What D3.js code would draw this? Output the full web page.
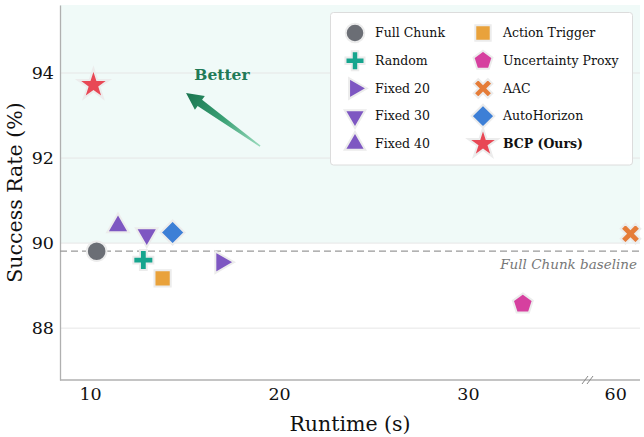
<!DOCTYPE html>
<html>
<head>
<meta charset="utf-8">
<script src="https://cdn.jsdelivr.net/npm/d3@7"></script>
<style>
  body { margin: 0; background: #fff; }
  svg { display: block; font-family: "DejaVu Serif", serif; }
</style>
</head>
<body>
<svg id="chart" width="644" height="437"></svg>
<script>
// data
const methods   = ["Full Chunk", "Random", "Fixed 20", "Fixed 30", "Fixed 40",
                   "Action Trigger", "Uncertainty Proxy", "AAC", "AutoHorizon", "BCP (Ours)"];
const runtimes  = [10.35, 12.82, 16.96, 13.0, 11.48, 13.84, 32.9, 60.8, 14.37, 10.18];
const successes = [89.81, 89.6, 89.55, 90.2, 90.4, 89.17, 88.57, 90.22, 90.25, 93.72];
const colors    = ["#6b6e75", "#16a58e", "#7e57c2", "#7e57c2", "#7e57c2",
                   "#e9a23b", "#d6409f", "#e57c38", "#3d7fd6", "#e84855"];
const shapes    = ["circle", "plus", "triRight", "triDown", "triUp",
                   "square", "pentagon", "xmark", "diamond", "star"];

const xTicks = [10, 20, 30, 60];
const yTicks = [88, 90, 92, 94];
const baseline = 89.81;

const margin = { top: 5, right: 4, bottom: 57, left: 60 };
const W = 644, H = 437;
const svg = d3.select("#chart");

// broken x axis: 8.4..36.4 | 58.6..61.3
const x = d3.scaleLinear()
    .domain([8.41, 36.35, 58.57, 61.3])
    .range([margin.left, 588, 588, W - margin.right]);
const y = d3.scaleLinear()
    .domain([86.78, 95.6])
    .range([H - margin.bottom, margin.top]);

const x0 = margin.left, x1 = W - margin.right;
const yTop = margin.top, yBot = H - margin.bottom;

// shaded "good" region above 90
svg.append("rect")
    .attr("x", x0).attr("y", yTop)
    .attr("width", x1 - x0).attr("height", y(90) - yTop)
    .attr("fill", "#f0faf8");

// grid
svg.append("g").selectAll("line")
    .data(yTicks).join("line")
    .attr("x1", x0).attr("x2", x1)
    .attr("y1", d => y(d)).attr("y2", d => y(d))
    .attr("stroke", "#e6e6e6").attr("stroke-width", 1);

// axes
const yAxis = svg.append("g")
    .attr("transform", `translate(${x0},0)`)
    .call(d3.axisLeft(y).tickValues(yTicks).tickSize(0).tickPadding(6));
const xAxis = svg.append("g")
    .attr("transform", `translate(0,${yBot})`)
    .call(d3.axisBottom(x).tickValues(xTicks).tickSize(0).tickPadding(8));
[xAxis, yAxis].forEach(g => {
    g.select(".domain").attr("stroke", "#b0b0b0").attr("stroke-width", 1.3);
    g.selectAll("text").attr("font-family", "DejaVu Serif").attr("font-size", 17.5).attr("fill", "#111");
});
xAxis.select(".domain").attr("d", `M${x0},0H${x1}`);

// break marks
const bx = x(36.35);
svg.append("g").selectAll("line")
    .data([-3, 2]).join("line")
    .attr("x1", d => bx + d - 3).attr("x2", d => bx + d + 3)
    .attr("y1", yBot + 4).attr("y2", yBot - 4)
    .attr("stroke", "#888").attr("stroke-width", 1);

// axis titles
svg.append("text")
    .attr("x", (x0 + x1) / 2).attr("y", 431)
    .attr("text-anchor", "middle").attr("font-size", 20.5).attr("fill", "#111")
    .text("Runtime (s)");
svg.append("text")
    .attr("transform", `translate(22,${(yTop + yBot) / 2}) rotate(-90)`)
    .attr("text-anchor", "middle").attr("font-size", 20.5).attr("fill", "#111")
    .text("Success Rate (%)");

// baseline
svg.append("line")
    .attr("x1", x0).attr("x2", x1)
    .attr("y1", y(baseline)).attr("y2", y(baseline))
    .attr("stroke", "#999").attr("stroke-width", 1.3).attr("stroke-dasharray", "7,4");
svg.append("text")
    .attr("x", x1 - 3).attr("y", y(baseline) + 18)
    .attr("text-anchor", "end").attr("font-style", "italic")
    .attr("font-size", 13.5).attr("fill", "#777")
    .text("Full Chunk baseline");

// "Better" arrow (data coords)
const arrowTail = [19.0, 92.28], arrowHead = [15.08, 93.53];
const defs = svg.append("defs");
const grad = defs.append("linearGradient")
    .attr("id", "arrowGrad").attr("gradientUnits", "userSpaceOnUse")
    .attr("x1", x(arrowTail[0])).attr("y1", y(arrowTail[1]))
    .attr("x2", x(arrowHead[0])).attr("y2", y(arrowHead[1]));
grad.append("stop").attr("offset", 0).attr("stop-color", "#9adbbd");
grad.append("stop").attr("offset", 0.5).attr("stop-color", "#3aa175");
grad.append("stop").attr("offset", 1).attr("stop-color", "#1a7550");
{
    const tx = x(arrowTail[0]), ty = y(arrowTail[1]);
    const hx = x(arrowHead[0]), hy = y(arrowHead[1]);
    const dx = hx - tx, dy = hy - ty, L = Math.hypot(dx, dy);
    const ux = dx / L, uy = dy / L, nx = -uy, ny = ux;
    const headLen = 17, headW = 8.5, shaftW = 3.8, tailW = 0.7;
    const bxp = hx - ux * headLen, byp = hy - uy * headLen;
    const pts = [
        [tx + nx * tailW, ty + ny * tailW],
        [bxp + nx * shaftW, byp + ny * shaftW],
        [bxp + nx * headW, byp + ny * headW],
        [hx, hy],
        [bxp - nx * headW, byp - ny * headW],
        [bxp - nx * shaftW, byp - ny * shaftW],
        [tx - nx * tailW, ty - ny * tailW]
    ];
    svg.append("path")
        .attr("d", "M" + pts.map(p => p.join(",")).join("L") + "Z")
        .attr("fill", "url(#arrowGrad)");
}
svg.append("text")
    .attr("x", x(16.98)).attr("y", y(93.84))
    .attr("text-anchor", "middle").attr("font-weight", "bold")
    .attr("font-size", 15.5).attr("fill", "#217a57")
    .text("Better");

// marker shapes
function polyPath(n, r, rot) {
    const p = d3.path();
    for (let i = 0; i < n; i++) {
        const a = rot + i * 2 * Math.PI / n;
        const px = r * Math.sin(a), py = -r * Math.cos(a);
        if (i === 0) p.moveTo(px, py); else p.lineTo(px, py);
    }
    p.closePath();
    return p.toString();
}
function crossPath(r, w, rot) {
    // plus with half-length r and half-width w, rotated by rot
    const base = [[-w, -r], [w, -r], [w, -w], [r, -w], [r, w], [w, w], [w, r], [-w, r],
                  [-w, w], [-r, w], [-r, -w], [-w, -w]];
    const c = Math.cos(rot), s = Math.sin(rot);
    return "M" + base.map(([a, b]) => [a * c - b * s, a * s + b * c].join(",")).join("L") + "Z";
}
function shapePath(kind, k) {
    k = k || 1;
    switch (kind) {
        case "circle":   return d3.symbol(d3.symbolCircle, 300 * k * k)();
        case "plus":     return crossPath(10 * k, 3.4 * k, 0);
        case "xmark":    return crossPath(10.5 * k, 3.4 * k, Math.PI / 4);
        case "triUp":    return polyPath(3, 12.5 * k, 0);
        case "triDown":  return polyPath(3, 12.5 * k, Math.PI);
        case "triRight": return polyPath(3, 12.5 * k, Math.PI / 2);
        case "square":   return polyPath(4, 11.5 * k, Math.PI / 4);
        case "diamond":  return polyPath(4, 12 * k, 0);
        case "pentagon": return polyPath(5, 10.5 * k, 0);
        case "star":     return d3.symbol(d3.symbolStar, 300 * k * k)();
    }
}

// points
svg.append("g").selectAll("path")
    .data(methods.map((m, i) => i))
    .join("path")
    .attr("transform", i => `translate(${x(runtimes[i])},${y(successes[i])})`)
    .attr("d", i => shapePath(shapes[i]))
    .attr("fill", i => colors[i])
    .attr("stroke", "#ececec").attr("stroke-width", 2)
    .attr("stroke-linejoin", "miter");

// legend
const lg = svg.append("g");
lg.append("rect")
    .attr("x", 330.5).attr("y", 12.5).attr("width", 302).attr("height", 152.5)
    .attr("rx", 3).attr("fill", "#fff").attr("fill-opacity", 0.95)
    .attr("stroke", "#dcdcdc").attr("stroke-width", 1);
const colX = [355, 483], rowY0 = 33, rowDy = 27.7;
const item = lg.selectAll("g.item")
    .data(methods.map((m, i) => i))
    .join("g")
    .attr("transform", i => `translate(${colX[Math.floor(i / 5)]},${rowY0 + (i % 5) * rowDy})`);
item.append("path")
    .attr("d", i => shapePath(shapes[i], 0.95))
    .attr("fill", i => colors[i])
    .attr("stroke", "#ececec").attr("stroke-width", 2);
item.append("text")
    .attr("x", 20).attr("dy", "0.35em")
    .attr("font-size", 12.5).attr("fill", "#111")
    .attr("font-weight", i => methods[i] === "BCP (Ours)" ? "bold" : null)
    .text(i => methods[i]);
</script>
</body>
</html>
